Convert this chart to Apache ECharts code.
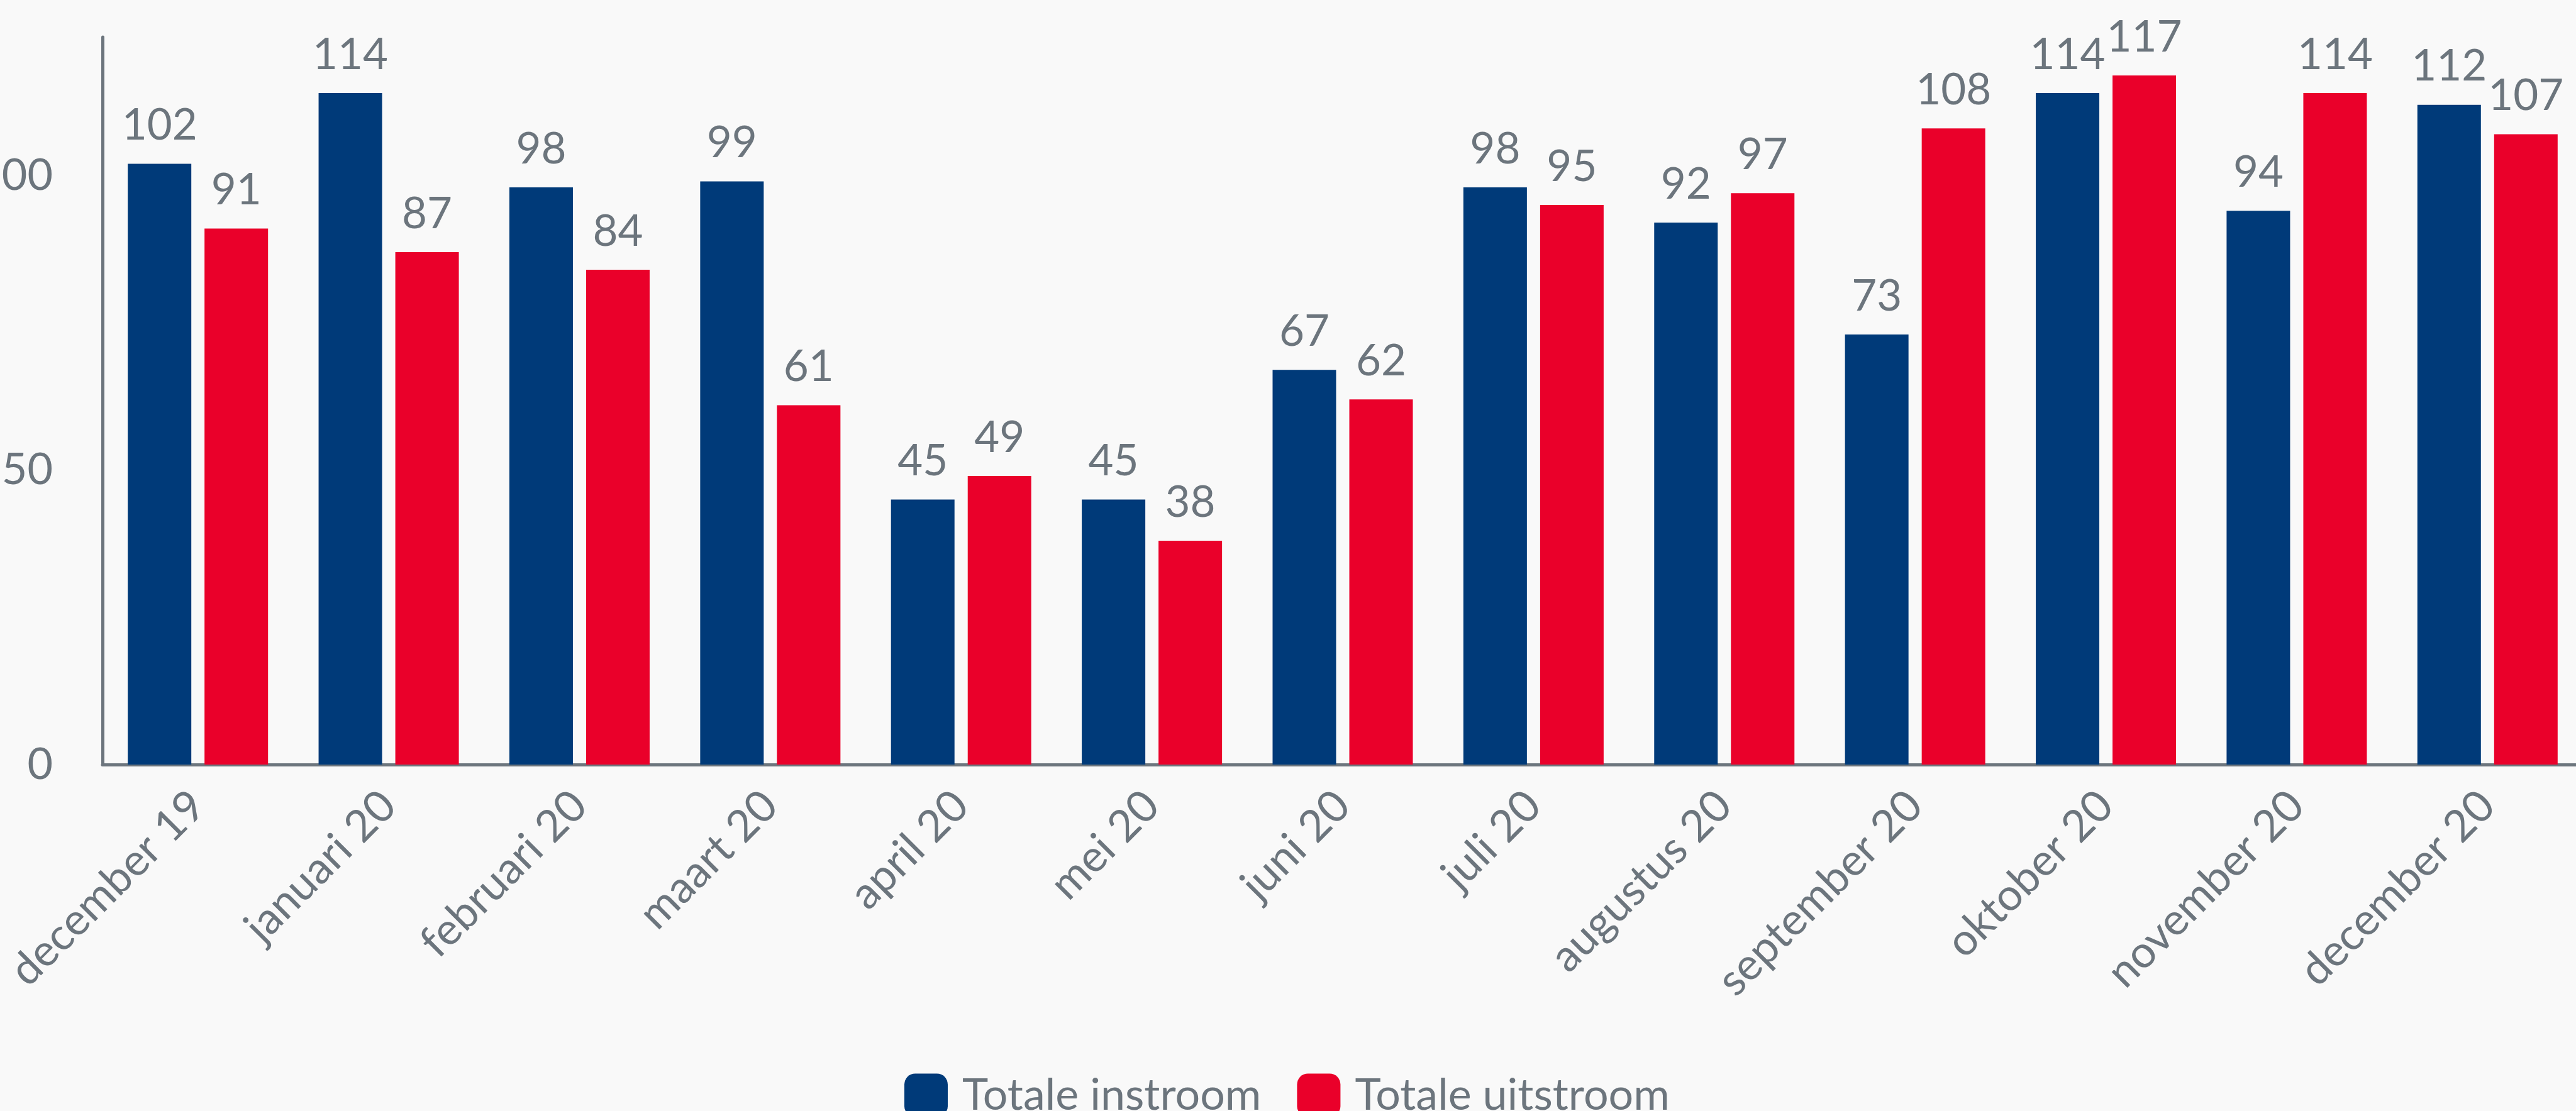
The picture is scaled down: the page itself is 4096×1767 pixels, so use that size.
<!DOCTYPE html>
<html>
<head>
<meta charset="utf-8">
<script src="https://cdn.jsdelivr.net/npm/echarts@6/dist/echarts.min.js"></script>
<style>
html,body{margin:0;padding:0;background:#f9f9f9;}
#c{width:4096px;height:1767px;}
</style>
</head>
<body>
<div id="c"></div>
<script>
const categories = ['december 19','januari 20','februari 20','maart 20','april 20','mei 20','juni 20','juli 20','augustus 20','september 20','oktober 20','november 20','december 20'];
const instroom = [102,114,98,99,45,45,67,98,92,73,114,94,112];
const uitstroom = [91,87,84,61,49,38,62,95,97,108,117,114,107];
const seriesNames = ['Totale instroom','Totale uitstroom'];

const gray = '#6c757d';
const font = 'Lato';
const chart = echarts.init(document.getElementById('c'), null, {renderer:'canvas'});
const labelCfg = {show:true, position:'top', distance:26, color:gray, fontFamily:font, fontSize:69};
chart.setOption({
  backgroundColor:'#f9f9f9',
  animation:false,
  grid:{left:163, right:-11, top:59, bottom:551, containLabel:false, outerBoundsMode:'none'},
  legend:{
    left:1433, top:1702, itemWidth:69, itemHeight:69, itemGap:57,
    icon:'roundRect',
    textStyle:{color:gray, fontFamily:font, fontSize:70, padding:[0,0,0,18]},
    data:seriesNames
  },
  xAxis:{
    type:'category', data:categories,
    axisLine:{lineStyle:{color:gray, width:5}},
    axisTick:{show:false},
    axisLabel:{rotate:45, interval:0, margin:54, color:gray, fontFamily:font, fontSize:70}
  },
  yAxis:{
    type:'value', min:0, max:123.5, interval:50,
    axisLine:{show:true, lineStyle:{color:gray, width:5}},
    axisTick:{show:false},
    splitLine:{show:false},
    axisLabel:{showMaxLabel:false, margin:79, color:gray, fontFamily:font, fontSize:70}
  },
  series:[
    {name:seriesNames[0], type:'bar', data:instroom, barWidth:101, barGap:'20.8%', itemStyle:{color:'#003a79'}, label:labelCfg},
    {name:seriesNames[1], type:'bar', data:uitstroom, barWidth:101, barGap:'20.8%', itemStyle:{color:'#ea002a'}, label:labelCfg}
  ]
});
</script>
</body>
</html>
